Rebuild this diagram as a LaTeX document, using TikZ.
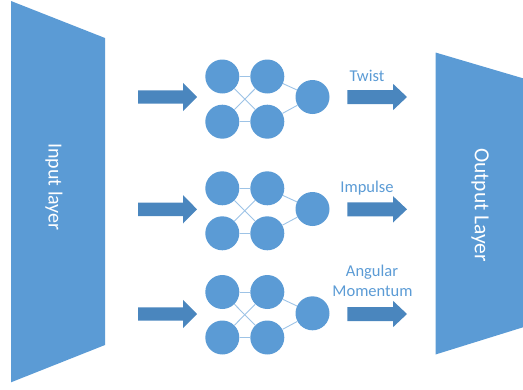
\documentclass[tikz,border=0pt]{standalone}
\usepackage{fontspec}
\setmainfont{Carlito}
\definecolor{office}{HTML}{5B9BD5}
\definecolor{arrowc}{HTML}{4A86BE}
\definecolor{linkc}{HTML}{9DC3E6}
\tikzset{
  neuron/.style={circle,fill=office,minimum size=34pt,inner sep=0pt},
  link/.style={draw=linkc,line width=0.9pt},
  lbl/.style={text=office,font=\fontsize{16.5}{19}\selectfont,inner sep=0pt},
  layertext/.style={text=white,rotate=-90,inner sep=0pt},
  layerfill/.style={fill=office},
  fatin/.pic={\fill[arrowc] (0,-6.7)--(45,-6.7)--(45,-14.2)--(59,0)--(45,14.2)--(45,6.7)--(0,6.7)--cycle;},
  fatout/.pic={\fill[arrowc] (0,-7)--(45.7,-7)--(45.7,-13.2)--(59.7,0)--(45.7,13.2)--(45.7,7)--(0,7)--cycle;}
}
\begin{document}
\begin{tikzpicture}[x=1pt,y=-1pt]
\useasboundingbox (0,0) rectangle (523,389);
% input layer
\fill[layerfill] (11,1) -- (105,38) -- (105,345) -- (11,382.3) -- cycle;
\node[layertext,font=\fontsize{20}{24}\selectfont] (inlab) at (54,187) {Input layer};
% output layer
\fill[layerfill] (435.5,52.5) -- (523,78.3) -- (523,327.3) -- (435.5,354.5) -- cycle;
\node[layertext,font=\fontsize{21.5}{25}\selectfont] (outlab) at (480,205) {Output Layer};
% networks
\foreach \t/\b/\o/\a/\g in {76.5/121.7/97/97/1, 188.3/233.3/209/209.3/2, 292/337.5/313.3/314/3}{
  \node[neuron] (tl\g) at (222.3,\t) {};
  \node[neuron] (tr\g) at (267.3,\t) {};
  \node[neuron] (bl\g) at (222.3,\b) {};
  \node[neuron] (br\g) at (267.3,\b) {};
  \node[neuron] (o\g) at (312.5,\o) {};
  \draw[link] (tl\g) -- (tr\g);
  \draw[link] (bl\g) -- (br\g);
  \draw[link] (tl\g) -- (br\g);
  \draw[link] (bl\g) -- (tr\g);
  \draw[link] (tr\g) -- (o\g);
  \draw[link] (br\g) -- (o\g);
  \pic at (138,\a) {fatin};
  \pic at (347.3,\a) {fatout};
}
\node[lbl] (l1) at (367,76) {Twist};
\node[lbl] (l2) at (367,188.3) {Impulse};
\node[lbl] (l3a) at (372,272) {Angular};
\node[lbl] (l3b) at (372.5,291.7) {Momentum};
\end{tikzpicture}
\end{document}
